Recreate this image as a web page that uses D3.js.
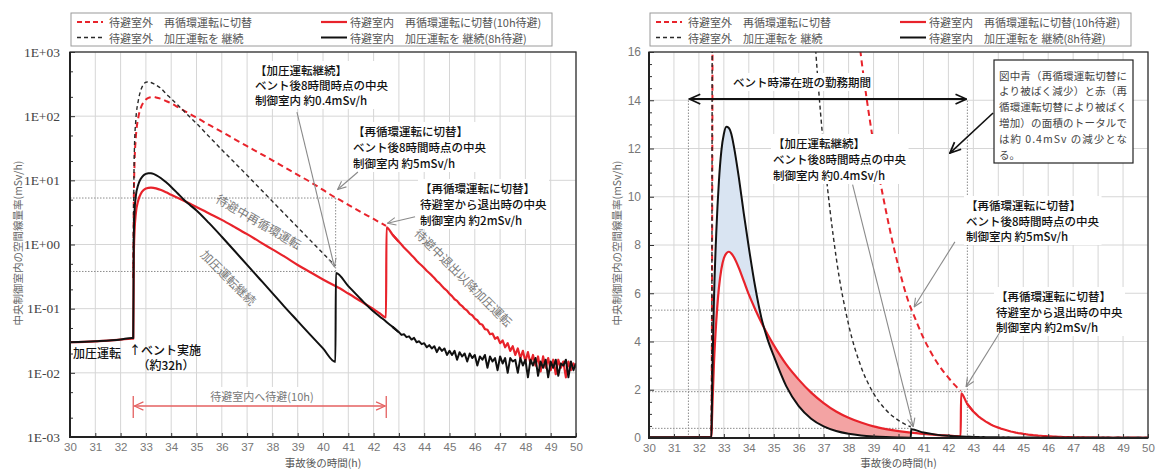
<!DOCTYPE html>
<html><head><meta charset="utf-8">
<script src="https://cdn.jsdelivr.net/npm/d3@7"></script>
<style>
body{margin:0;background:#fff;}
svg{display:block;}
</style></head><body>
<svg id="c" width="1157" height="470"></svg>
<script>
// ---------------- DATA ----------------
const hoursMain = [30,31,32,32.45,32.5,32.52,32.55,32.6,32.7,32.8,32.9,33,33.1,33.2,33.3,33.4,33.6,33.8,34,34.25,34.5,34.75,35,35.5,36,36.5,37,37.5,38,38.5,39,39.5,40,40.49,40.51,41,41.5,42,42.25,42.49,42.51,42.75];
const hoursTail = [43,43.1,43.2,43.3,43.4,43.5,43.6,43.7,43.8,43.9,44,44.1,44.2,44.3,44.4,44.5,44.6,44.7,44.8,44.9,45,45.1,45.2,45.3,45.4,45.5,45.6,45.7,45.8,45.9,46,46.1,46.2,46.3,46.4,46.5,46.6,46.7,46.8,46.9,47,47.1,47.2,47.3,47.4,47.5,47.6,47.7,47.8,47.9,48,48.1,48.2,48.3,48.4,48.5,48.6,48.7,48.8,48.9,49,49.1,49.2,49.3,49.4,49.5,49.6,49.7,49.8,49.9,50];
const hours = hoursMain.concat(hoursTail);

// 待避室外 再循環運転に切替 (red dashed)
const redOutside = [null,null,null,null,0.3,4,18,45,95,135,163,182,193,198,199,196,186,172,158,139,122,108,95,73,57,44,34,26.5,20.5,15.8,12.2,9.4,7.1,5.4,5.35,4.15,3.2,2.5,2.2,1.95];
// 待避室外 加圧運転を継続 (black dashed)
const blackOutside = [null,null,null,null,0.3,6,35,85,175,255,310,338,342,335,322,306,270,222,188,150,120,96,77,48,30,19,12,7.5,4.7,2.95,1.85,1.16,0.73,0.46];
// 待避室内 再循環運転に切替(10h待避) (red solid)
const redInsideMain = [0.030,0.031,0.033,0.034,0.034,0.6,1.6,3.0,4.9,6.2,7.0,7.45,7.65,7.72,7.65,7.5,7.05,6.5,5.95,5.35,4.8,4.3,3.85,3.05,2.42,1.88,1.45,1.1,0.84,0.64,0.48,0.37,0.285,0.225,0.223,0.172,0.13,0.098,0.084,0.073,1.85,1.42];
const redInsideTail = [1.10,1.00,0.90,0.82,0.75,0.68,0.62,0.56,0.51,0.47,
  0.43,0.39,0.36,0.33,0.30,0.27,0.25,0.225,0.205,0.19,
  0.17,0.157,0.14,0.132,0.118,0.11,0.099,0.093,0.083,0.079,
  0.070,0.066,0.058,0.056,0.048,0.047,0.040,0.041,0.034,0.036,
  0.029,0.032,0.025,0.029,0.022,0.026,0.019,0.024,0.017,0.022,
  0.015,0.021,0.014,0.019,0.013,0.018,0.0105,0.018,0.012,0.017,
  0.011,0.016,0.0095,0.016,0.012,0.015,0.0085,0.015,0.011,0.014,
  0.012];
// 待避室内 加圧運転を継続(8h待避) (black solid)
const blackInsideMain = [0.030,0.031,0.033,0.035,0.035,1.2,3.2,5.6,8.6,10.6,11.9,12.6,12.9,12.85,12.6,12.1,10.8,9.3,7.9,6.3,5.0,4.1,3.4,2.15,1.32,0.8,0.48,0.29,0.175,0.105,0.064,0.039,0.024,0.0148,0.36,0.225,0.14,0.09,0.075,0.063,0.062,0.052];
const blackInsideTail = [0.043,0.039,0.040,0.036,0.037,0.033,0.035,0.030,0.031,0.028,
  0.029,0.025,0.027,0.024,0.026,0.021,0.025,0.022,0.024,0.019,
  0.022,0.019,0.022,0.016,0.021,0.018,0.020,0.015,0.020,0.017,
  0.019,0.013,0.018,0.016,0.019,0.012,0.018,0.015,0.017,0.011,
  0.018,0.014,0.017,0.010,0.017,0.015,0.016,0.010,0.017,0.013,
  0.016,0.0085,0.016,0.013,0.017,0.009,0.015,0.012,0.016,0.0085,
  0.015,0.012,0.016,0.009,0.014,0.013,0.016,0.0085,0.015,0.011,
  0.014];
const redInside = redInsideMain.concat(redInsideTail);
const blackInside = blackInsideMain.concat(blackInsideTail);

const xTicks = [30,31,32,33,34,35,36,37,38,39,40,41,42,43,44,45,46,47,48,49,50];
const logTicks = [1e-3,1e-2,1e-1,1e0,1e1,1e2,1e3];
const logTickLabels = ["1E-03","1E-02","1E-01","1E+00","1E+01","1E+02","1E+03"];
const logMinor = [2e-3,5e-3,2e-2,5e-2,2e-1,5e-1,2,5,20,50,200,500];
const linTicks = [0,2,4,6,8,10,12,14,16];
const linMinor = [0.5,1,1.5,2.5,3,3.5,4.5,5,5.5,6.5,7,7.5,8.5,9,9.5,10.5,11,11.5,12.5,13,13.5,14.5,15,15.5];
const legendLabels = ["待避室外　再循環運転に切替","待避室外　加圧運転を 継続","待避室内　再循環運転に切替(10h待避)","待避室内　加圧運転を 継続(8h待避)"];
const yTitle = "中央制御室内の空間線量率(mSv/h)";
const xTitle = "事故後の時間(h)";
// reference levels (mSv/h) and times (h) used by the annotations
const vent8hLevelRecirc = 5.3, vent8hLevelPress = 0.38, exitLevel = 1.92, vent8hTime = 40.5, exitTime = 42.5;
const dutyStart = 31.58, dutyEnd = 42.76, dutyLevel = 14.05;
const noiseStart = 42.75;

// ---------------- SETUP ----------------
const JP = '"Noto Sans CJK JP","Noto Sans",sans-serif';
const SERIF = '"Liberation Serif","DejaVu Serif",serif';
const SANS = '"Liberation Sans","DejaVu Sans",sans-serif';
const RED = '#e8232b';
const svg = d3.select('#c');
const defs = svg.append('defs');
function addMarker(id, color, w, size) {
  defs.append('marker').attr('id', id).attr('viewBox', '0 0 12 12').attr('refX', 11).attr('refY', 6)
    .attr('markerWidth', size).attr('markerHeight', size).attr('markerUnits', 'userSpaceOnUse')
    .attr('orient', 'auto-start-reverse')
    .append('path').attr('d', 'M1,1.5 L11,6 L1,10.5').attr('fill', 'none').attr('stroke', color).attr('stroke-width', w);
}
addMarker('arrGrey', '#8a8a8a', 1.3, 10);
addMarker('arrBlack', '#111', 1.6, 13);
addMarker('arrRed', '#e46060', 1.3, 11);

const series = [
  {data: redOutside, color: RED, w: 2, dash: '6,4'},
  {data: blackOutside, color: '#2a2a2a', w: 1.4, dash: '4,3'},
  {data: redInside, color: RED, w: 2.2, dash: null},
  {data: blackInside, color: '#111', w: 2, dash: null},
];

function textBlock(g, lines, x, y, lh, o) {
  o = o || {};
  const t = g.append('text').attr('x', x).attr('y', y)
    .attr('font-family', o.font || JP).attr('font-size', o.size || 11.5)
    .attr('font-weight', o.weight || 500).attr('fill', o.color || '#111')
    .attr('dominant-baseline', 'central').attr('text-anchor', o.anchor || 'start');
  lines.forEach((s, i) => t.append('tspan').attr('x', x).attr('dy', i ? lh : 0).text(s));
  if (o.bg) {
    const b = t.node().getBBox();
    g.insert('rect', () => t.node()).attr('x', b.x - 2).attr('y', b.y - 1).attr('width', b.width + 4).attr('height', b.height + 2).attr('fill', '#fff');
  }
  return t;
}

function legend(g, bx) {
  const by = 13, bw = 481, bh = 33;
  g.append('rect').attr('x', bx).attr('y', by).attr('width', bw).attr('height', bh).attr('fill', '#fff').attr('stroke', '#9a9a9a').attr('stroke-width', 1);
  const items = [
    {c: RED, dash: '5,3', w: 2, x: bx + 6, y: 22, l: legendLabels[0]},
    {c: '#2a2a2a', dash: '4,3', w: 1.4, x: bx + 6, y: 37.5, l: legendLabels[1]},
    {c: RED, dash: null, w: 2.2, x: bx + 250, y: 22, l: legendLabels[2]},
    {c: '#111', dash: null, w: 2, x: bx + 250, y: 37.5, l: legendLabels[3]},
  ];
  items.forEach(it => {
    g.append('line').attr('x1', it.x).attr('x2', it.x + 26).attr('y1', it.y).attr('y2', it.y)
      .attr('stroke', it.c).attr('stroke-width', it.w).attr('stroke-dasharray', it.dash);
    g.append('text').attr('x', it.x + (it.dash ? 32 : 29)).attr('y', it.y).attr('dominant-baseline', 'central')
      .attr('font-family', JP).attr('font-size', 11).attr('fill', '#555').text(it.l);
  });
}

function panel(cfg) {
  const g = svg.append('g');
  const {x, y, L, R, T, B} = cfg;
  const clipId = 'clip' + cfg.id;
  defs.append('clipPath').attr('id', clipId).append('rect').attr('x', L).attr('y', T).attr('width', R - L).attr('height', B - T);
  g.append('g').selectAll('line').data(xTicks).join('line')
    .attr('x1', d => x(d)).attr('x2', d => x(d)).attr('y1', T).attr('y2', B).attr('stroke', '#d6d6d6').attr('stroke-width', 1);
  g.append('g').selectAll('line').data(cfg.gridY).join('line')
    .attr('x1', L).attr('x2', R).attr('y1', d => y(d)).attr('y2', d => y(d)).attr('stroke', '#d6d6d6').attr('stroke-width', 1);
  return g;
}

function drawAxes(g, cfg) {
  const {x, y, L, R, T, B} = cfg;
  const ax = g.append('g').attr('transform', `translate(0,${B})`)
    .call(d3.axisBottom(x).tickValues(xTicks).tickSize(-4).tickPadding(6).tickFormat(d => d));
  ax.select('.domain').remove();
  ax.selectAll('line').attr('stroke', '#333');
  ax.selectAll('text').attr('font-family', SANS).attr('font-size', 11.5).attr('fill', '#777');
  const ay = g.append('g').attr('transform', `translate(${L},0)`)
    .call(d3.axisLeft(y).tickValues(cfg.yTicks).tickSize(-5).tickPadding(cfg.yPad).tickFormat((d, i) => cfg.yLabels[i]));
  ay.select('.domain').remove();
  ay.selectAll('line').attr('stroke', '#333');
  ay.selectAll('text').attr('font-family', cfg.yFont).attr('font-size', cfg.yFontSize).attr('fill', cfg.yColor);
  const am = g.append('g').attr('transform', `translate(${L},0)`)
    .call(d3.axisLeft(y).tickValues(cfg.yMinor).tickSize(-3).tickFormat(''));
  am.select('.domain').remove();
  am.selectAll('line').attr('stroke', '#333');
  g.append('rect').attr('x', L).attr('y', T).attr('width', R - L).attr('height', B - T).attr('fill', 'none').attr('stroke', '#333').attr('stroke-width', 1.3);
  g.append('path').attr('d', `M${L},${T}V${B}H${R}`).attr('fill', 'none').attr('stroke', '#222').attr('stroke-width', 2);
  g.append('text').attr('x', (L + R) / 2).attr('y', 462).attr('text-anchor', 'middle').attr('dominant-baseline', 'central')
    .attr('font-family', JP).attr('font-size', 10.5).attr('fill', '#555').text(xTitle);
  g.append('text').attr('transform', `translate(${cfg.titleX},243) rotate(-90)`).attr('text-anchor', 'middle').attr('dominant-baseline', 'central')
    .attr('font-family', JP).attr('font-size', 10.5).attr('fill', '#666').text(yTitle);
}

function drawSeries(g, cfg) {
  const {x, y} = cfg;
  const lg = g.append('g').attr('clip-path', `url(#clip${cfg.id})`);
  series.forEach(s => {
    const gen = d3.line().defined((d, i) => s.data[i] != null && hours[i] <= noiseStart + 0.25)
      .x((d, i) => x(hours[i])).y((d, i) => y(s.data[i])).curve(d3.curveMonotoneX);
    const genTail = d3.line().defined((d, i) => s.data[i] != null && hours[i] >= noiseStart)
      .x((d, i) => x(hours[i])).y((d, i) => y(s.data[i])).curve(d3.curveLinear);
    [gen, genTail].forEach(gg => lg.append('path').datum(hours).attr('d', gg).attr('fill', 'none').attr('stroke', s.color)
      .attr('stroke-width', s.w).attr('stroke-dasharray', s.dash).attr('stroke-linejoin', 'round'));
  });
}

function dotted(g, x1, y1, x2, y2) {
  g.append('line').attr('x1', x1).attr('y1', y1).attr('x2', x2).attr('y2', y2)
    .attr('stroke', '#8c8c8c').attr('stroke-width', 1).attr('stroke-dasharray', '1.5,1.5');
}
function arrow(g, x1, y1, x2, y2, m, color, w) {
  g.append('line').attr('x1', x1).attr('y1', y1).attr('x2', x2).attr('y2', y2)
    .attr('stroke', color || '#8a8a8a').attr('stroke-width', w || 1.1).attr('marker-end', `url(#${m || 'arrGrey'})`);
}

// ---------------- LEFT (log) ----------------
const cL = {id: 'L', L: 70, R: 576, T: 52, B: 437};
cL.x = d3.scaleLinear().domain([30, 50]).range([cL.L, cL.R]);
cL.y = d3.scaleLog().domain([1e-3, 1e3]).range([cL.B, cL.T]);
cL.gridY = logTicks; cL.yTicks = logTicks; cL.yLabels = logTickLabels; cL.yMinor = logMinor;
cL.yPad = 10; cL.yFont = SERIF; cL.yFontSize = 13.5; cL.yColor = '#444'; cL.titleX = 17;
const gL = panel(cL);
{
  const x = cL.x, y = cL.y;
  dotted(gL, cL.L, y(vent8hLevelRecirc), x(vent8hTime), y(vent8hLevelRecirc));
  dotted(gL, cL.L, y(vent8hLevelPress), x(vent8hTime), y(vent8hLevelPress));
  dotted(gL, x(vent8hTime), y(vent8hLevelRecirc), x(vent8hTime), y(vent8hLevelPress));
}
drawSeries(gL, cL);
drawAxes(gL, cL);
legend(gL, 71);
{
  const x = cL.x, y = cL.y, g = gL;
  const rot = (txt, cx, cy, a) => g.append('text').attr('transform', `translate(${cx},${cy}) rotate(${a})`)
    .attr('text-anchor', 'middle').attr('dominant-baseline', 'central').attr('font-family', JP)
    .attr('font-size', 12).attr('fill', '#7a7a7a').text(txt);
  rot('待避中再循環運転', 259, 221, 30);
  rot('加圧運転継続', 229, 277, 45);
  rot('待避中退出以降加圧運転', 464, 277, 45);
  textBlock(g, ['加圧運転'], 73, 352, 0, {size: 12});
  textBlock(g, ['↑ベント実施'], 129, 349, 0, {size: 12});
  textBlock(g, ['（約32h）'], 166, 364, 0, {size: 12, anchor: 'middle'});
  const ay = 406;
  [exitTime - 10, exitTime].forEach(t => g.append('line').attr('x1', x(t)).attr('x2', x(t)).attr('y1', 396).attr('y2', 418).attr('stroke', '#e46060').attr('stroke-width', 1.3));
  g.append('line').attr('x1', x(exitTime - 10) + 1).attr('x2', x(exitTime) - 1).attr('y1', ay).attr('y2', ay)
    .attr('stroke', '#e46060').attr('stroke-width', 1.3).attr('marker-end', 'url(#arrRed)').attr('marker-start', 'url(#arrRed)');
  textBlock(g, ['待避室内へ待避(10h)'], 262, 396, 0, {size: 11, weight: 400, color: '#777', anchor: 'middle', bg: true});
  textBlock(g, ['【加圧運転継続】', 'ベント後8時間時点の中央', '制御室内 約0.4mSv/h'], 255, 70, 15, {bg: true});
  textBlock(g, ['【再循環運転に切替】', 'ベント後8時間時点の中央', '制御室内 約5mSv/h'], 353, 131, 16, {bg: true});
  textBlock(g, ['【再循環運転に切替】', '待避室から退出時の中央', '制御室内 約2mSv/h'], 420, 188, 16, {bg: true});
  arrow(g, x(38.97), y(116), x(40.45), y(0.45));
  arrow(g, x(41.38), y(13.5), x(40.58), y(7.2));
  arrow(g, x(43.64), y(2.7), x(42.55), y(2.15));
}

// ---------------- RIGHT (linear) ----------------
const cR = {id: 'R', L: 649, R: 1148, T: 52, B: 438};
cR.x = d3.scaleLinear().domain([30, 50]).range([cR.L, cR.R]);
cR.y = d3.scaleLinear().domain([0, 16]).range([cR.B, cR.T]);
cR.gridY = linTicks; cR.yTicks = linTicks; cR.yLabels = linTicks.map(String); cR.yMinor = linMinor;
cR.yPad = 8; cR.yFont = SANS; cR.yFontSize = 12; cR.yColor = '#777'; cR.titleX = 616;
const gR = panel(cR);
{
  const x = cR.x, y = cR.y, g = gR;
  dotted(g, cR.L, y(vent8hLevelRecirc), x(vent8hTime), y(vent8hLevelRecirc));
  dotted(g, cR.L, y(exitLevel), x(dutyEnd), y(exitLevel));
  dotted(g, cR.L, y(0.4), x(vent8hTime), y(0.4));
  dotted(g, x(vent8hTime), y(0), x(vent8hTime), y(vent8hLevelRecirc));
  dotted(g, x(dutyStart), y(0), x(dutyStart), y(dutyLevel));
  dotted(g, x(dutyEnd), y(0), x(dutyEnd), y(dutyLevel));
  const fg = g.append('g').attr('clip-path', 'url(#clipR)');
  const blueArea = d3.area().defined((d, i) => hours[i] >= 32.5 && hours[i] <= 34.75)
    .x((d, i) => x(hours[i])).y0((d, i) => y(redInside[i])).y1((d, i) => y(Math.max(redInside[i], blackInside[i]))).curve(d3.curveMonotoneX);
  const redArea = d3.area().defined((d, i) => hours[i] >= 34.5 && hours[i] <= 42.51)
    .x((d, i) => x(hours[i])).y0((d, i) => y(blackInside[i])).y1((d, i) => y(Math.max(redInside[i], blackInside[i]))).curve(d3.curveMonotoneX);
  fg.append('path').datum(hours).attr('d', blueArea).attr('fill', '#d9e4f2');
  fg.append('path').datum(hours).attr('d', redArea).attr('fill', '#f3a3a3');
}
drawSeries(gR, cR);
drawAxes(gR, cR);
legend(gR, 650);
{
  const x = cR.x, y = cR.y, g = gR;
  textBlock(g, ['ベント時滞在班の勤務期間'], 802, 82, 0, {anchor: 'middle', bg: true});
  g.append('line').attr('x1', x(dutyStart) + 1).attr('x2', x(dutyEnd) - 1).attr('y1', y(dutyLevel)).attr('y2', y(dutyLevel))
    .attr('stroke', '#111').attr('stroke-width', 2).attr('marker-end', 'url(#arrBlack)').attr('marker-start', 'url(#arrBlack)');
  textBlock(g, ['【加圧運転継続】', 'ベント後8時間時点の中央', '制御室内 約0.4mSv/h'], 773, 143, 16, {bg: true});
  textBlock(g, ['【再循環運転に切替】', 'ベント後8時間時点の中央', '制御室内 約5mSv/h'], 966, 205, 15.5, {bg: true});
  textBlock(g, ['【再循環運転に切替】', '待避室から退出時の中央', '制御室内 約2mSv/h'], 996, 296, 15.5, {bg: true});
  arrow(g, x(38.16), y(10.5), x(40.59), y(0.47));
  arrow(g, x(42.26), y(8.13), x(40.63), y(5.44));
  arrow(g, x(44.04), y(4.34), x(42.71), y(2.13));
  g.append('rect').attr('x', 994).attr('y', 60).attr('width', 139).attr('height', 103).attr('fill', '#fff').attr('stroke', '#222').attr('stroke-width', 1.2);
  const note = ['図中青（再循環運転切替に', 'より被ばく減少）と赤（再', '循環運転切替により被ばく', '増加）の面積のトータルで', 'は約 0.4mSv の減少とな', 'る。'];
  note.forEach((s, i) => {
    const t = g.append('text').attr('x', 999).attr('y', 75 + i * 15.8).attr('dominant-baseline', 'central')
      .attr('font-family', JP).attr('font-size', 10.5).attr('fill', '#444').text(s);
    if (i < 5) t.attr('textLength', 128).attr('lengthAdjust', 'spacing');
  });
  arrow(g, x(43.79), y(13.47), x(42.06), y(11.81), 'arrBlack', '#111', 1.6);
}
</script>
</body></html>
